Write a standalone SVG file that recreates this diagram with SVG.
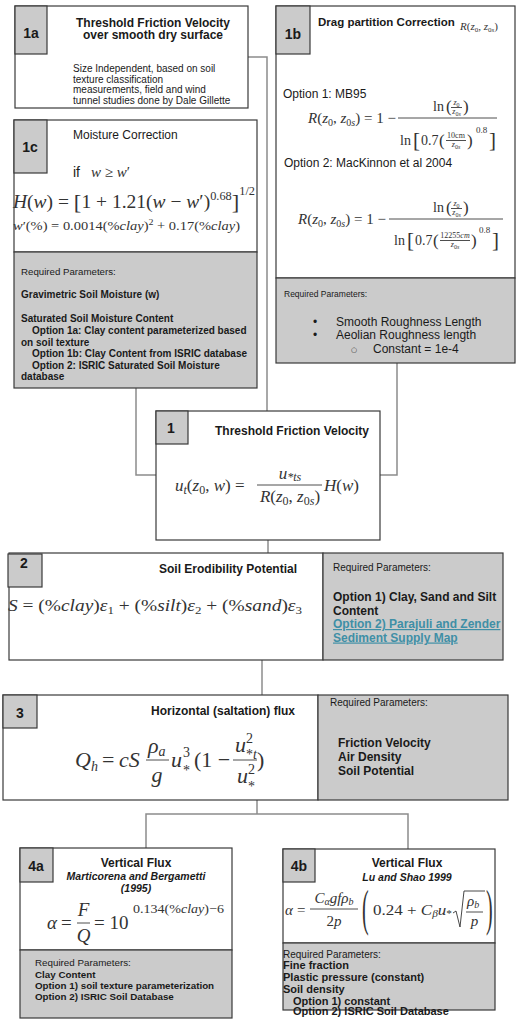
<svg xmlns="http://www.w3.org/2000/svg" width="520" height="1021" viewBox="0 0 520 1021">
<style>
.box{fill:#fff;stroke:#3a3a3a;stroke-width:1.2}
.gray{fill:#cbcbcb;stroke:#3a3a3a;stroke-width:1.2}
.lab{fill:#cbcbcb;stroke:#3a3a3a;stroke-width:1.2}
.conn{fill:none;stroke:#8c8c8c;stroke-width:1.5}
.bar{stroke:#3a3a3a;stroke-width:0.9}
.t{font-family:"Liberation Sans",Arial,sans-serif;fill:#1a1a1a}
.b{font-weight:bold}
.m{font-family:"Liberation Serif","DejaVu Serif",serif;fill:#333}
.i{font-style:italic}
.num{font-family:"Liberation Sans",Arial,sans-serif;font-weight:bold;font-size:14px;fill:#1a1a1a;text-anchor:middle}
.link{fill:#3f8fa6;text-decoration:underline}
</style>
<rect width="520" height="1021" fill="#fff"/>

<g id="connectors">
<polyline class="conn" points="248,57 267,57 267,411"/>
<polyline class="conn" points="136,388 136,475 156,475"/>
<polyline class="conn" points="397,363 397,475 380,475"/>
<line class="conn" x1="268" y1="540" x2="268" y2="553"/>
<line class="conn" x1="262" y1="660" x2="262" y2="695"/>
<line class="conn" x1="257" y1="800" x2="257" y2="814"/>
<polyline class="conn" points="146,848 146,814 408,814 408,849"/>
</g>

<g id="node-1a">
<rect class="box" x="15" y="6" width="233" height="102"/>
<rect class="lab" x="15" y="6" width="32" height="48"/>
<text class="num" x="31" y="38">1a</text>
<text class="t b" x="153" y="27" font-size="12" text-anchor="middle">Threshold Friction Velocity</text>
<text class="t b" x="153" y="39" font-size="12" text-anchor="middle">over smooth dry surface</text>
<text class="t" x="73" y="72" font-size="10" fill="#333">Size Independent, based on soil</text>
<text class="t" x="73" y="82.5" font-size="10" fill="#333">texture classification</text>
<text class="t" x="73" y="93" font-size="10" fill="#333">measurements, field and wind</text>
<text class="t" x="73" y="103.5" font-size="10" fill="#333">tunnel studies done by Dale Gillette</text>
</g>

<g id="node-1b">
<rect class="box" x="276" y="6" width="239" height="272"/>
<rect class="gray" x="276" y="278" width="239" height="85"/>
<rect class="lab" x="276" y="6" width="34" height="48"/>
<text class="num" x="293" y="39">1b</text>
<text class="t b" x="318" y="26" font-size="11.5">Drag partition Correction</text>
<text class="m" x="460" y="30" font-size="11"><tspan class="i">R</tspan>(<tspan class="i">z</tspan><tspan font-size="7" dy="2">0</tspan><tspan dy="-2">, </tspan><tspan class="i">z</tspan><tspan font-size="7" dy="2">0</tspan><tspan font-size="7" class="i">s</tspan><tspan dy="-2">)</tspan></text>
<text class="t" x="283" y="98" font-size="12">Option 1: MB95</text>
<text class="m" x="308" y="123" font-size="15"><tspan class="i">R</tspan>(<tspan class="i">z</tspan><tspan font-size="10" dy="3">0</tspan><tspan dy="-3">, </tspan><tspan class="i">z</tspan><tspan font-size="10" dy="3">0</tspan><tspan font-size="10" class="i">s</tspan><tspan dy="-3">) = 1 −</tspan></text>
<line class="bar" x1="398" y1="118" x2="497" y2="118"/>
<text class="m" x="433" y="111" font-size="14">ln</text>
<text class="m" x="446" y="112" font-size="17">(</text>
<text class="m i" x="456.5" y="105" font-size="8" text-anchor="middle">z<tspan font-style="normal" font-size="6" dy="1.5">0</tspan></text>
<line class="bar" x1="451" y1="107.5" x2="462" y2="107.5" stroke-width="0.6"/>
<text class="m i" x="456.5" y="114" font-size="8" text-anchor="middle">z<tspan font-style="normal" font-size="6" dy="1.5">0</tspan><tspan font-size="6">s</tspan></text>
<text class="m" x="463" y="112" font-size="17">)</text>
<text class="m" x="400" y="145" font-size="14">ln</text>
<text class="m" x="413" y="147" font-size="21">[</text>
<text class="m" x="421" y="145" font-size="14">0.7</text>
<text class="m" x="439" y="146" font-size="17">(</text>
<text class="m" x="456" y="138" font-size="8" text-anchor="middle">10cm</text>
<line class="bar" x1="446" y1="140.5" x2="466" y2="140.5" stroke-width="0.6"/>
<text class="m i" x="456" y="147" font-size="8" text-anchor="middle">z<tspan font-style="normal" font-size="6" dy="1.5">0</tspan><tspan font-size="6">s</tspan></text>
<text class="m" x="467" y="146" font-size="17">)</text>
<text class="m" x="476" y="133" font-size="9">0.8</text>
<text class="m" x="489" y="147" font-size="21">]</text>
<text class="t" x="284" y="167" font-size="12">Option 2: MacKinnon et al 2004</text>
<text class="m" x="298" y="224" font-size="15"><tspan class="i">R</tspan>(<tspan class="i">z</tspan><tspan font-size="10" dy="3">0</tspan><tspan dy="-3">, </tspan><tspan class="i">z</tspan><tspan font-size="10" dy="3">0</tspan><tspan font-size="10" class="i">s</tspan><tspan dy="-3">) = 1 −</tspan></text>
<line class="bar" x1="389" y1="219" x2="503" y2="219"/>
<text class="m" x="433" y="212" font-size="14">ln</text>
<text class="m" x="446" y="213" font-size="17">(</text>
<text class="m i" x="456.5" y="206" font-size="8" text-anchor="middle">z<tspan font-style="normal" font-size="6" dy="1.5">0</tspan></text>
<line class="bar" x1="451" y1="208.5" x2="462" y2="208.5" stroke-width="0.6"/>
<text class="m i" x="456.5" y="215" font-size="8" text-anchor="middle">z<tspan font-style="normal" font-size="6" dy="1.5">0</tspan><tspan font-size="6">s</tspan></text>
<text class="m" x="463" y="213" font-size="17">)</text>
<text class="m" x="394" y="245" font-size="14">ln</text>
<text class="m" x="407" y="247" font-size="21">[</text>
<text class="m" x="415" y="245" font-size="14">0.7</text>
<text class="m" x="433" y="246" font-size="17">(</text>
<text class="m" x="455" y="238" font-size="8" text-anchor="middle">12255<tspan class="i">cm</tspan></text>
<line class="bar" x1="440" y1="240.5" x2="470" y2="240.5" stroke-width="0.6"/>
<text class="m i" x="455" y="247" font-size="8" text-anchor="middle">z<tspan font-style="normal" font-size="6" dy="1.5">0</tspan><tspan font-size="6">s</tspan></text>
<text class="m" x="471" y="246" font-size="17">)</text>
<text class="m" x="479" y="233" font-size="9">0.8</text>
<text class="m" x="492" y="247" font-size="21">]</text>
<text class="t" x="284" y="297" font-size="8.5" fill="#333">Required Parameters:</text>
<text class="t" x="313" y="326" font-size="12">•</text>
<text class="t" x="336" y="326" font-size="12">Smooth Roughness Length</text>
<text class="t" x="313" y="339" font-size="12">•</text>
<text class="t" x="336" y="339" font-size="12">Aeolian Roughness length</text>
<text x="351" y="352" font-family="DejaVu Sans,sans-serif" font-size="7" fill="#333">○</text>
<text class="t" x="373" y="353" font-size="12">Constant = 1e-4</text>
</g>

<g id="node-1c">
<rect class="box" x="14" y="120" width="243" height="132"/>
<rect class="gray" x="14" y="252" width="243" height="136"/>
<rect class="lab" x="14" y="120" width="33" height="53"/>
<text class="num" x="30" y="152">1c</text>
<text class="t" x="73" y="139" font-size="12">Moisture Correction</text>
<text class="t" x="73" y="177" font-size="14">if</text>
<text class="m i" x="91" y="177" font-size="15">w <tspan font-style="normal">≥</tspan> w<tspan font-style="normal">′</tspan></text>
<text class="m" x="13" y="208" font-size="19" textLength="242" lengthAdjust="spacingAndGlyphs"><tspan class="i">H</tspan>(<tspan class="i">w</tspan>) = <tspan font-size="22" dy="1">[</tspan><tspan dy="-1">1 + 1.21(</tspan><tspan class="i">w</tspan> − <tspan class="i">w</tspan>′)<tspan font-size="12" dy="-8">0.68</tspan><tspan font-size="22" dy="9">]</tspan><tspan font-size="12" dy="-14">1/2</tspan></text>
<text class="m" x="13" y="230" font-size="13" textLength="227" lengthAdjust="spacingAndGlyphs"><tspan class="i">w</tspan>′(%) = 0.0014(%<tspan class="i">clay</tspan>)<tspan font-size="9" dy="-5">2</tspan><tspan dy="5"> + 0.17(%</tspan><tspan class="i">clay</tspan>)</text>
<text class="t" x="21" y="275" font-size="9.7" fill="#333">Required Parameters:</text>
<text class="t b" x="21" y="298" font-size="10">Gravimetric Soil Moisture (w)</text>
<text class="t b" x="21" y="322" font-size="10">Saturated Soil Moisture Content</text>
<text class="t b" x="32" y="334" font-size="10">Option 1a: Clay content parameterized based</text>
<text class="t b" x="21" y="345.5" font-size="10">on soil texture</text>
<text class="t b" x="32" y="357" font-size="10">Option 1b: Clay Content from ISRIC database</text>
<text class="t b" x="32" y="368.5" font-size="10">Option 2: ISRIC Saturated Soil Moisture</text>
<text class="t b" x="21" y="380" font-size="10">database</text>
</g>

<g id="node-1">
<rect class="box" x="156" y="411" width="224" height="129"/>
<rect class="lab" x="156" y="411" width="32" height="33"/>
<text class="num" x="171" y="433">1</text>
<text class="t b" x="369" y="435" font-size="12" text-anchor="end">Threshold Friction Velocity</text>
<text class="m" x="175" y="491" font-size="17"><tspan class="i">u</tspan><tspan class="i" font-size="12" dy="3">t</tspan><tspan dy="-3">(</tspan><tspan class="i">z</tspan><tspan font-size="12" dy="3">0</tspan><tspan dy="-3">, </tspan><tspan class="i">w</tspan>) =</text>
<line class="bar" x1="257" y1="485" x2="322" y2="485"/>
<text class="m i" x="290" y="479" font-size="17" text-anchor="middle">u<tspan font-size="12" dy="2">*ts</tspan></text>
<text class="m" x="290" y="502" font-size="17" text-anchor="middle"><tspan class="i">R</tspan>(<tspan class="i">z</tspan><tspan font-size="12" dy="3">0</tspan><tspan dy="-3">, </tspan><tspan class="i">z</tspan><tspan font-size="12" dy="3">0</tspan><tspan font-size="12" class="i">s</tspan><tspan dy="-3">)</tspan></text>
<text class="m" x="324" y="491" font-size="17"><tspan class="i">H</tspan>(<tspan class="i">w</tspan>)</text>
</g>

<g id="node-2">
<rect class="box" x="9" y="553" width="314" height="107"/>
<rect class="gray" x="323" y="553" width="180" height="107"/>
<rect class="lab" x="8" y="554" width="34" height="33"/>
<text class="num" x="24" y="568">2</text>
<text class="t b" x="297" y="573" font-size="12" text-anchor="end">Soil Erodibility Potential</text>
<text class="m" x="8" y="611" font-size="16.5" textLength="294" lengthAdjust="spacingAndGlyphs"><tspan class="i">S</tspan> = (%<tspan class="i">clay</tspan>)<tspan class="i">ε</tspan><tspan font-size="11" dy="3">1</tspan><tspan dy="-3"> + (%</tspan><tspan class="i">silt</tspan>)<tspan class="i">ε</tspan><tspan font-size="11" dy="3">2</tspan><tspan dy="-3"> + (%</tspan><tspan class="i">sand</tspan>)<tspan class="i">ε</tspan><tspan font-size="11" dy="3">3</tspan></text>
<text class="t" x="333" y="571" font-size="10" fill="#333">Required Parameters:</text>
<text class="t b" x="333" y="601" font-size="12">Option 1) Clay, Sand and Silt</text>
<text class="t b" x="333" y="614.5" font-size="12">Content</text>
<text class="t b link" x="333" y="628" font-size="12">Option 2) Parajuli and Zender</text>
<text class="t b link" x="333" y="641.5" font-size="12">Sediment Supply Map</text>
</g>

<g id="node-3">
<rect class="box" x="3" y="695" width="315" height="105"/>
<rect class="gray" x="318" y="695" width="190" height="105"/>
<rect class="lab" x="3" y="695" width="34" height="33"/>
<text class="num" x="20" y="718">3</text>
<text class="t b" x="295" y="715" font-size="12" text-anchor="end">Horizontal (saltation) flux</text>
<text class="m i" x="75" y="767" font-size="22">Q</text>
<text class="m i" x="91" y="771" font-size="14">h</text>
<text class="m" x="102" y="767" font-size="22">=</text>
<text class="m i" x="119" y="767" font-size="22">cS</text>
<line class="bar" x1="146" y1="760" x2="169" y2="760"/>
<text class="m i" x="148" y="753" font-size="22">ρ<tspan font-size="14" dy="3">a</tspan></text>
<text class="m i" x="157" y="782" font-size="22" text-anchor="middle">g</text>
<text class="m i" x="171" y="767" font-size="22">u</text>
<text class="m" x="183" y="757" font-size="14">3</text>
<text class="m" x="183" y="775" font-size="14">*</text>
<text class="m" x="194" y="767" font-size="22">(1 −</text>
<line class="bar" x1="233" y1="760" x2="257" y2="760"/>
<text class="m i" x="235" y="752" font-size="22">u</text>
<text class="m" x="246" y="743" font-size="14">2</text>
<text class="m" x="246" y="759" font-size="14">*<tspan class="i">t</tspan></text>
<text class="m i" x="237" y="783" font-size="22">u</text>
<text class="m" x="248" y="774" font-size="14">2</text>
<text class="m" x="248" y="791" font-size="14">*</text>
<text class="m" x="257" y="767" font-size="22">)</text>
<text class="t" x="330" y="706" font-size="10" fill="#333">Required Parameters:</text>
<text class="t b" x="338" y="747" font-size="12">Friction Velocity</text>
<text class="t b" x="338" y="761" font-size="12">Air Density</text>
<text class="t b" x="338" y="775" font-size="12">Soil Potential</text>
</g>

<g id="node-4a">
<rect class="box" x="20" y="848" width="212" height="102"/>
<rect class="gray" x="20" y="950" width="212" height="68"/>
<rect class="lab" x="20" y="848" width="33" height="34"/>
<text class="num" x="36" y="871">4a</text>
<text class="t b" x="136" y="867" font-size="12" text-anchor="middle">Vertical Flux</text>
<text class="t b i" x="136" y="879.5" font-size="10.5" text-anchor="middle">Marticorena and Bergametti</text>
<text class="t b i" x="136" y="892" font-size="10.5" text-anchor="middle">(1995)</text>
<text class="m i" x="47" y="929" font-size="19">α</text>
<text class="m" x="61" y="929" font-size="19">=</text>
<line class="bar" x1="77" y1="923" x2="90" y2="923"/>
<text class="m i" x="83.5" y="916" font-size="19" text-anchor="middle">F</text>
<text class="m i" x="83.5" y="942" font-size="19" text-anchor="middle">Q</text>
<text class="m" x="94" y="929" font-size="19">= 10</text>
<text class="m" x="133" y="913" font-size="12.5" textLength="91" lengthAdjust="spacingAndGlyphs">0.134(%<tspan class="i">clay</tspan>)−6</text>
<text class="t" x="35" y="966" font-size="9.8" fill="#333">Required Parameters:</text>
<text class="t b" x="35" y="977.5" font-size="9.8">Clay Content</text>
<text class="t b" x="35" y="988.5" font-size="9.8">Option 1) soil texture parameterization</text>
<text class="t b" x="35" y="999.5" font-size="9.8">Option 2) ISRIC Soil Database</text>
</g>

<g id="node-4b">
<rect class="box" x="283" y="849" width="212" height="94"/>
<rect class="gray" x="283" y="943" width="212" height="67"/>
<rect class="lab" x="283" y="849" width="32" height="33"/>
<text class="num" x="299" y="871">4b</text>
<text class="t b" x="407" y="867" font-size="12" text-anchor="middle">Vertical Flux</text>
<text class="t b i" x="407" y="881" font-size="10.5" text-anchor="middle">Lu and Shao 1999</text>
<text class="m i" x="285" y="915" font-size="15">α</text>
<text class="m" x="297" y="915" font-size="15">=</text>
<line class="bar" x1="310" y1="909" x2="358" y2="909"/>
<text class="m i" x="334" y="903" font-size="15" text-anchor="middle">C<tspan font-size="10" dy="2">α</tspan><tspan dy="-2">gfρ</tspan><tspan font-size="10" dy="2">b</tspan></text>
<text class="m" x="334" y="926" font-size="15" text-anchor="middle">2<tspan class="i">p</tspan></text>
<text class="m" transform="translate(362,925) scale(0.4,1)" font-size="50">(</text>
<text class="m" x="373" y="915" font-size="15" textLength="79" lengthAdjust="spacingAndGlyphs">0.24 + <tspan class="i">C</tspan><tspan class="i" font-size="10" dy="2">β</tspan><tspan class="i" dy="-2">u</tspan><tspan font-size="10" dy="2">*</tspan></text>
<polyline points="453,913 456,911 460,927 464,891 485,891" fill="none" stroke="#333" stroke-width="0.9"/>
<line class="bar" x1="466" y1="912" x2="483" y2="912"/>
<text class="m i" x="467" y="906" font-size="15">ρ<tspan font-size="10" dy="2">b</tspan></text>
<text class="m i" x="474.5" y="926" font-size="15" text-anchor="middle">p</text>
<text class="m" transform="translate(486,925) scale(0.4,1)" font-size="50">)</text>
<text class="t" x="283" y="957.5" font-size="10" fill="#333">Required Parameters:</text>
<text class="t b" x="283" y="969" font-size="11">Fine fraction</text>
<text class="t b" x="283" y="981" font-size="11">Plastic pressure (constant)</text>
<text class="t b" x="283" y="993" font-size="11">Soil density</text>
<text class="t b" x="293" y="1004.5" font-size="11">Option 1) constant</text>
<text class="t b" x="293" y="1015" font-size="11">Option 2) ISRIC Soil Database</text>
</g>
</svg>
